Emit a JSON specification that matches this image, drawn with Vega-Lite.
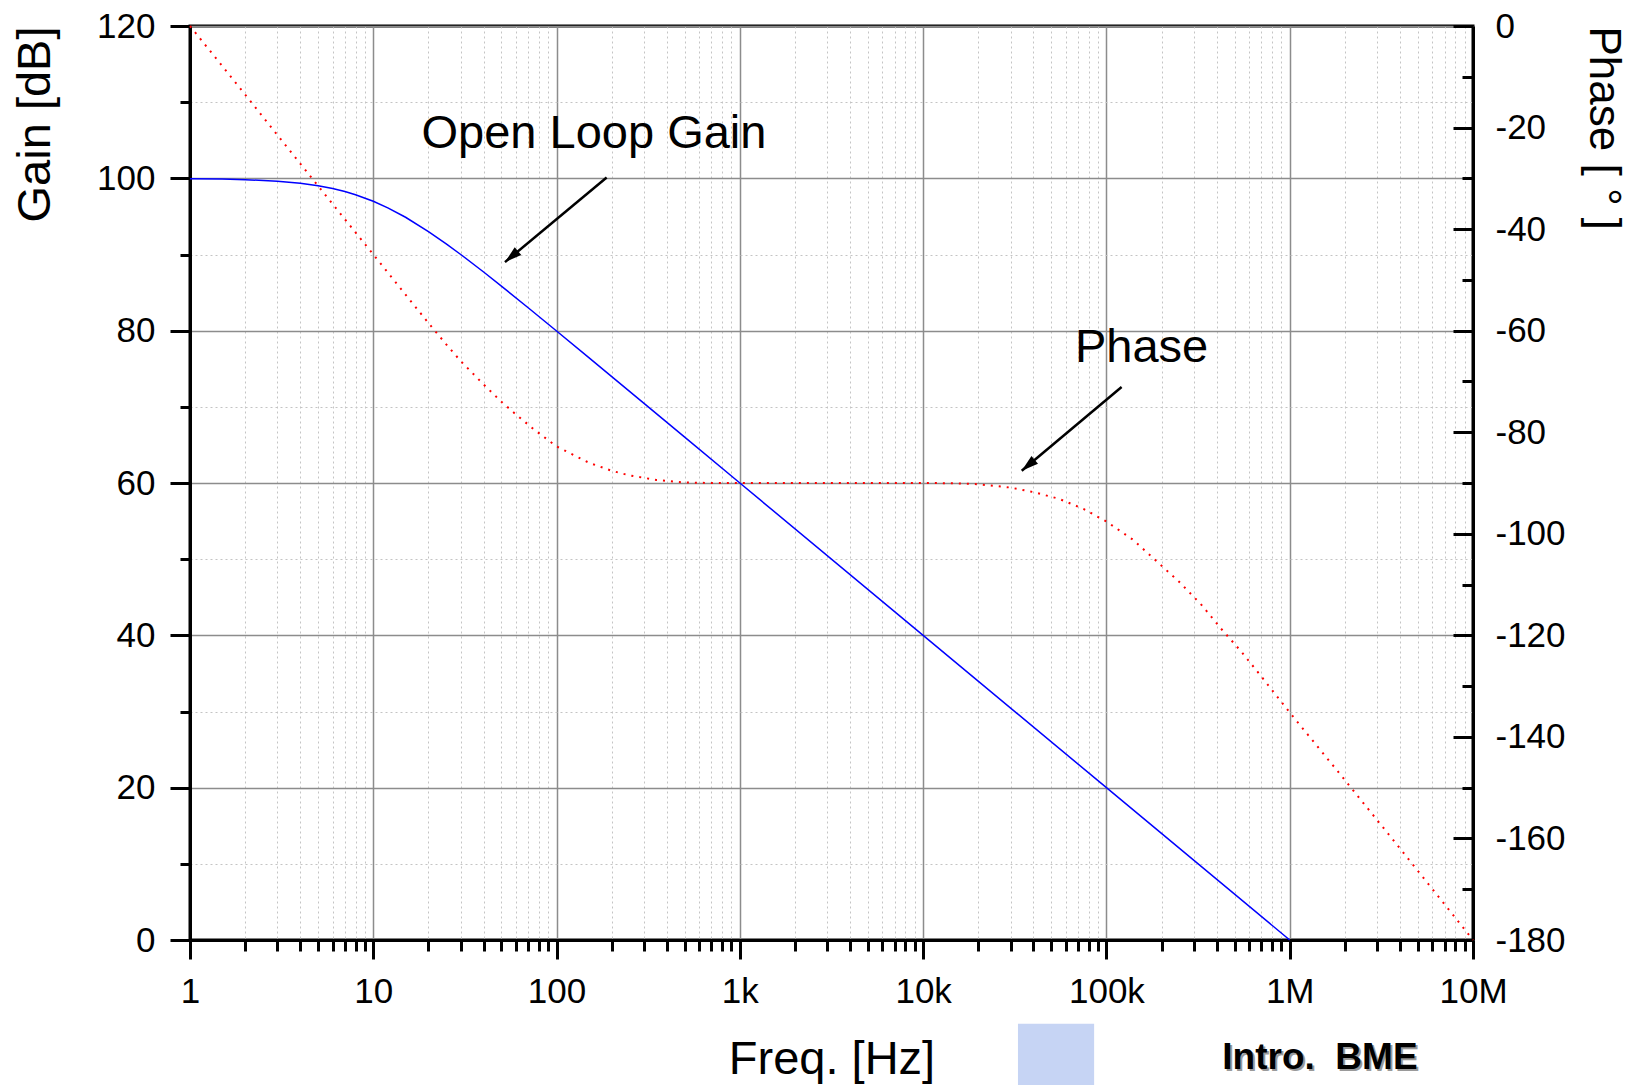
{
  "$schema": "https://vega.github.io/schema/vega-lite/v6.json",
  "width": 1283,
  "height": 914,
  "autosize": {"type": "none"},
  "padding": {"left": 190, "top": 26, "right": 166, "bottom": 145},
  "background": "white",
  "config": {
    "font": "Liberation Sans",
    "view": {"stroke": "black", "strokeWidth": 3},
    "axis": {
      "domainColor": "black", "domainWidth": 3,
      "tickColor": "black", "tickWidth": 3,
      "labelFontSize": 35, "labelColor": "black",
      "titleFontSize": 47, "titleFontWeight": "normal", "titleColor": "black",
      "labelFlush": false, "labelOverlap": false, "labelBound": false,
      "gridColor": "#8c8c8c", "gridWidth": 1.5, "gridOpacity": 1
    }
  },
  "datasets": {
    "gain": [
      {"f": 1, "g": 99.96}, {"f": 1.5, "g": 99.9}, {"f": 2, "g": 99.83}, {"f": 3, "g": 99.63},
      {"f": 4, "g": 99.36}, {"f": 5, "g": 99.03}, {"f": 6, "g": 98.66}, {"f": 7, "g": 98.27},
      {"f": 8, "g": 97.85}, {"f": 10, "g": 96.99}, {"f": 12, "g": 96.13}, {"f": 15, "g": 94.89},
      {"f": 20, "g": 93.01}, {"f": 25, "g": 91.4}, {"f": 30, "g": 90.0}, {"f": 40, "g": 87.7},
      {"f": 50, "g": 85.85}, {"f": 70, "g": 83.01}, {"f": 100, "g": 79.96}, {"f": 150, "g": 76.46},
      {"f": 200, "g": 73.97}, {"f": 300, "g": 70.45}, {"f": 500, "g": 66.02}, {"f": 1000, "g": 60.0},
      {"f": 10000, "g": 40.0}, {"f": 100000, "g": 20.0}, {"f": 1000000, "g": 0.0}
    ],
    "phase": [
      {"f": 1, "p": 0}, {"f": 2, "p": -13.5}, {"f": 3, "p": -21.5}, {"f": 5, "p": -31.5},
      {"f": 10, "p": -45}, {"f": 15, "p": -52.9}, {"f": 20, "p": -58.5}, {"f": 25, "p": -62.7},
      {"f": 30, "p": -66.0}, {"f": 40, "p": -70.6}, {"f": 50, "p": -74.0}, {"f": 60, "p": -76.5},
      {"f": 75, "p": -79.4}, {"f": 100, "p": -82.8}, {"f": 150, "p": -86.0}, {"f": 200, "p": -87.6},
      {"f": 250, "p": -88.5}, {"f": 350, "p": -89.4}, {"f": 500, "p": -89.9}, {"f": 700, "p": -90},
      {"f": 1000, "p": -90}, {"f": 10000, "p": -90}, {"f": 15000, "p": -90.05}, {"f": 20000, "p": -90.25},
      {"f": 30000, "p": -90.9}, {"f": 40000, "p": -91.8}, {"f": 55000, "p": -93.1}, {"f": 75000, "p": -95.1},
      {"f": 100000, "p": -97.6}, {"f": 140000, "p": -101.2}, {"f": 180000, "p": -104.8}, {"f": 250000, "p": -109.5},
      {"f": 330000, "p": -114.0}, {"f": 425000, "p": -118.8}, {"f": 550000, "p": -123.4}, {"f": 700000, "p": -128.1},
      {"f": 1000000, "p": -135.2}, {"f": 2000000, "p": -148.5}, {"f": 4000000, "p": -162.0}, {"f": 10000000, "p": -180}
    ],
    "ann": [
      {"f": 160, "g": 105.8, "t": "Open Loop Gain"},
      {"f": 155600, "g": 77.7, "t": "Phase"}
    ],
    "arrows": [
      {"f1": 187.6, "g1": 100.1, "f2": 52.3, "g2": 89.0},
      {"f1": 121000, "g1": 72.6, "f2": 34500, "g2": 61.6}
    ],
    "footer": [
      {"f": 1462000, "g": -15.5, "t": "Intro.\u00a0 BME"}
    ],
    "logo": [
      {"f": 53100, "p": -204}
    ]
  },
  "layer": [
    {
      "data": {"name": "gain"},
      "mark": {"type": "line", "color": "#0000ff", "strokeWidth": 1.5},
      "encoding": {
        "x": {
          "field": "f", "type": "quantitative",
          "scale": {"type": "log", "domain": [1, 10000000], "nice": false},
          "axis": {
            "orient": "bottom",
            "values": [1, 10, 100, 1000, 10000, 100000, 1000000, 10000000],
            "tickSize": 19, "labelPadding": 15,
            "labelExpr": "datum.value >= 1000000 ? format(datum.value/1000000,'d') + 'M' : datum.value >= 1000 ? format(datum.value/1000,'d') + 'k' : format(datum.value,'d')",
            "title": "Freq. [Hz]", "titlePadding": 27, "grid": true
          }
        },
        "y": {
          "field": "g", "type": "quantitative",
          "scale": {"domain": [0, 120], "nice": false, "zero": false},
          "axis": {
            "orient": "left", "values": [0, 20, 40, 60, 80, 100, 120],
            "tickSize": 20, "labelPadding": 15,
            "title": "Gain [dB]", "titleAnchor": "end", "titlePadding": 37, "grid": true
          }
        }
      }
    },
    {
      "data": {"name": "phase"},
      "mark": {"type": "line", "color": "#ff0000", "strokeWidth": 2, "strokeDash": [2, 6]},
      "encoding": {
        "x": {
          "field": "f", "type": "quantitative",
          "scale": {"type": "log", "domain": [1, 10000000], "nice": false},
          "axis": {
            "orient": "bottom",
            "values": [2,3,4,5,6,7,8,9,20,30,40,50,60,70,80,90,200,300,400,500,600,700,800,900,2000,3000,4000,5000,6000,7000,8000,9000,20000,30000,40000,50000,60000,70000,80000,90000,200000,300000,400000,500000,600000,700000,800000,900000,2000000,3000000,4000000,5000000,6000000,7000000,8000000,9000000],
            "labels": false, "tickSize": 11, "domain": false, "title": null,
            "grid": true, "gridColor": "#c4c4c4", "gridDash": [2, 3], "gridWidth": 1
          }
        },
        "y": {
          "field": "p", "type": "quantitative",
          "scale": {"domain": [-180, 0], "nice": false, "zero": false},
          "axis": {
            "orient": "right", "values": [-180, -160, -140, -120, -100, -80, -60, -40, -20, 0],
            "tickSize": -20, "labelPadding": 42,
            "labelExpr": "'' + datum.value",
            "title": "Phase [ ° ]", "titleAnchor": "end", "titleAlign": "left", "titleFontSize": 44, "titlePadding": 15, "grid": false
          }
        }
      }
    },
    {
      "data": {"name": "ann"},
      "mark": {"type": "text", "fontSize": 47, "align": "center", "baseline": "middle", "color": "black"},
      "encoding": {
        "x": {"field": "f", "type": "quantitative", "scale": {"type": "log", "domain": [1, 10000000], "nice": false}, "axis": null},
        "y": {
          "field": "g", "type": "quantitative",
          "scale": {"domain": [0, 120], "nice": false, "zero": false},
          "axis": {
            "orient": "left", "values": [10, 30, 50, 70, 90, 110],
            "labels": false, "tickSize": 10, "domain": false, "title": null,
            "grid": true, "gridColor": "#c4c4c4", "gridDash": [2, 3], "gridWidth": 1
          }
        },
        "text": {"field": "t"}
      }
    },
    {
      "data": {"name": "arrows"},
      "mark": {"type": "rule", "strokeWidth": 2.5, "color": "black"},
      "encoding": {
        "x": {"field": "f1", "type": "quantitative", "scale": {"type": "log", "domain": [1, 10000000], "nice": false}, "axis": null},
        "x2": {"field": "f2"},
        "y": {"field": "g1", "type": "quantitative", "scale": {"domain": [0, 120], "nice": false, "zero": false}, "axis": null},
        "y2": {"field": "g2"}
      }
    },
    {
      "data": {"name": "arrows"},
      "mark": {"type": "point", "shape": "M0,0L0.6,2L-0.6,2Z", "size": 289, "angle": 230, "filled": true, "color": "black", "opacity": 1, "strokeWidth": 0},
      "encoding": {
        "x": {"field": "f2", "type": "quantitative", "scale": {"type": "log", "domain": [1, 10000000], "nice": false}, "axis": null},
        "y": {"field": "g2", "type": "quantitative", "scale": {"domain": [0, 120], "nice": false, "zero": false}, "axis": null}
      }
    },
    {
      "data": {"name": "footer"},
      "mark": {"type": "text", "fontSize": 37, "fontWeight": "bold", "align": "center", "baseline": "middle", "color": "#9a9a9a", "dx": 2, "dy": 2},
      "encoding": {
        "x": {"field": "f", "type": "quantitative", "scale": {"type": "log", "domain": [1, 10000000], "nice": false}, "axis": null},
        "y": {"field": "g", "type": "quantitative", "scale": {"domain": [0, 120], "nice": false, "zero": false}, "axis": null},
        "text": {"field": "t"}
      }
    },
    {
      "data": {"name": "footer"},
      "mark": {"type": "text", "fontSize": 37, "fontWeight": "bold", "align": "center", "baseline": "middle", "color": "black"},
      "encoding": {
        "x": {"field": "f", "type": "quantitative", "scale": {"type": "log", "domain": [1, 10000000], "nice": false}, "axis": null},
        "y": {"field": "g", "type": "quantitative", "scale": {"domain": [0, 120], "nice": false, "zero": false}, "axis": null},
        "text": {"field": "t"}
      }
    },
    {
      "data": {"name": "logo"},
      "mark": {"type": "point", "shape": "square", "size": 5800, "filled": true, "color": "#c6d4f4", "opacity": 1},
      "encoding": {
        "x": {"field": "f", "type": "quantitative", "scale": {"type": "log", "domain": [1, 10000000], "nice": false}, "axis": null},
        "y": {
          "field": "p", "type": "quantitative",
          "scale": {"domain": [-180, 0], "nice": false, "zero": false},
          "axis": {
            "orient": "right", "values": [-170, -150, -130, -110, -90, -70, -50, -30, -10],
            "labels": false, "tickSize": -11, "domain": false, "title": null, "grid": false
          }
        }
      }
    }
  ],
  "resolve": {"scale": {"y": "independent"}, "axis": {"x": "independent", "y": "independent"}}
}
